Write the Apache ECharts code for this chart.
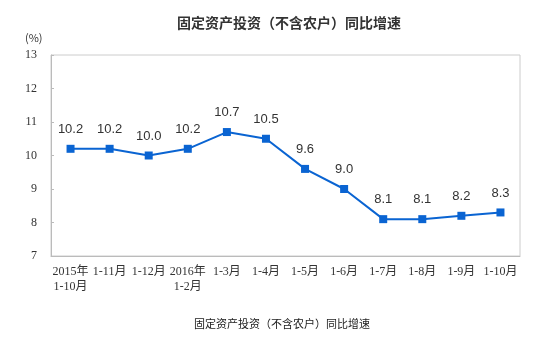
<!DOCTYPE html>
<html><head><meta charset="utf-8">
<script src="https://cdn.jsdelivr.net/npm/echarts@6/dist/echarts.min.js"></script>
<style>html,body{margin:0;padding:0;background:#fff}#c{width:554px;height:337px}</style>
</head><body><div id="c"></div>
<script>
const categories = ['2015年\n1-10月','1-11月','1-12月','2016年\n1-2月','1-3月','1-4月','1-5月','1-6月','1-7月','1-8月','1-9月','1-10月'];
const values = [10.2,10.2,10.0,10.2,10.7,10.5,9.6,9.0,8.1,8.1,8.2,8.3];
const yTicks = [7,8,9,10,11,12,13];
const titleText = '固定资产投资（不含农户）同比增速';
const captionText = '固定资产投资（不含农户）同比增速';
const unitText = '(%)';

const chart = echarts.init(document.getElementById('c'));
const font = '"Noto Sans CJK SC", "DejaVu Sans", sans-serif';
const serif = '"Liberation Serif", "Noto Sans CJK SC", serif';
chart.setOption({
  animation:false,
  textStyle:{fontFamily:font},
  title:[
    {text:titleText,left:284,top:11,textAlign:'center',textStyle:{fontSize:14,fontWeight:'bold',color:'#333',fontFamily:font}},
    {text:captionText,left:277,top:313,textAlign:'center',textStyle:{fontSize:11,fontWeight:'normal',color:'#222',fontFamily:font}},
    {text:unitText,left:20,top:27,textStyle:{fontSize:11,fontWeight:'normal',color:'#333',fontFamily:font}}
  ],
  grid:{left:51,right:34,top:55,bottom:81,show:true,borderColor:'#ccc',borderWidth:1},
  xAxis:{type:'category',data:categories,boundaryGap:true,
    axisLine:{lineStyle:{color:'#bbb'}},
    axisTick:{inside:true,length:4,lineStyle:{color:'#bbb'}},
    axisLabel:{interval:0,color:'#333',fontSize:12,margin:8,lineHeight:15,fontFamily:serif}},
  yAxis:{type:'value',min:yTicks[0],max:yTicks[yTicks.length-1],interval:1,
    axisLine:{show:true,lineStyle:{color:'#bbb'}},
    axisTick:{show:true,inside:true,length:3,lineStyle:{color:'#bbb'}},
    splitLine:{show:false},
    axisLabel:{color:'#333',fontSize:12,margin:14,fontFamily:serif}},
  series:[{type:'line',data:values,symbol:'rect',symbolSize:8,
    lineStyle:{color:'#0a64d2',width:2},itemStyle:{color:'#0a64d2'},
    label:{show:true,position:'top',distance:9,color:'#333',fontSize:13,fontFamily:'"Liberation Sans", Arial, sans-serif',
      formatter:p=>p.value.toFixed(1)}}]
});
</script></body></html>
